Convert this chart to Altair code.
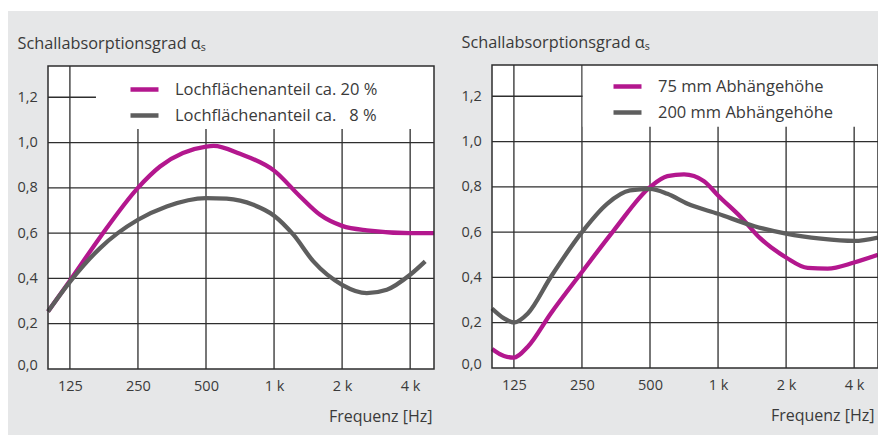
import altair as alt
import pandas as pd

FONT = "Open Sans"
TXT = "#3a3a3a"
MAGENTA = "#b3178e"
GREY = "#5e5e5e"
BG = "#e6e7e8"
GRID = "#2e2e2e"

# ---------------- data ----------------
x_ticks = [125, 250, 500, 1000, 2000, 4000]
y_ticks = [0.0, 0.2, 0.4, 0.6, 0.8, 1.0, 1.2]
y_grid = [0.2, 0.4, 0.6, 0.8, 1.0, 1.2]

# left panel: Lochflächenanteil
left_names = ["Lochflächenanteil ca. 20 %", "Lochflächenanteil ca.\u00a0\u00a0\u00a08 %"]
left_f20 = [100, 125, 170, 250, 313, 500, 540, 707, 1000, 1304, 1598, 2000, 2572, 4000, 5100]
left_a20 = [0.254, 0.39, 0.582, 0.80, 0.894, 0.982, 0.985, 0.95, 0.876, 0.762, 0.681, 0.632, 0.612, 0.60, 0.60]
left_f8 = [100, 125, 170, 250, 335, 500, 617, 810, 1000, 1218, 1493, 2000, 2572, 3153, 4000, 4663]
left_a8 = [0.254, 0.385, 0.534, 0.659, 0.718, 0.755, 0.752, 0.725, 0.677, 0.593, 0.475, 0.372, 0.335, 0.35, 0.416, 0.475]

# right panel: Abhängehöhe
right_names = ["75 mm Abhängehöhe", "200 mm Abhängehöhe"]
right_f75 = [100, 113, 125, 144, 182, 250, 346, 500, 597, 707, 867, 1000, 1260, 1543, 2000, 2491, 3056, 4000, 5100]
right_a75 = [0.084, 0.053, 0.046, 0.094, 0.241, 0.424, 0.608, 0.799, 0.847, 0.855, 0.825, 0.762, 0.667, 0.571, 0.488, 0.442, 0.439, 0.466, 0.50]
right_f200 = [100, 113, 125, 144, 182, 250, 323, 408, 500, 597, 733, 1000, 1449, 2000, 2848, 4000, 5100]
right_a200 = [0.263, 0.219, 0.201, 0.241, 0.402, 0.60, 0.725, 0.784, 0.791, 0.769, 0.725, 0.681, 0.626, 0.593, 0.571, 0.561, 0.576]

y_title = "Schallabsorptionsgrad α\u209b"
x_title = "Frequenz [Hz]"

X_DOMAIN = [100, 5100]
Y_DOMAIN = [0, 1.338]

# whole grey area (view) size
VW, VH = 870, 424


def panel(series, names, box, xrange_, yrange_, leg_x, leg_y, xt_x, yt_y):
    x0, x1 = xrange_
    ybot, ytop = yrange_
    xs = alt.Scale(type="log", domain=X_DOMAIN, range=[x0, x1], nice=False, zero=False)
    ys = alt.Scale(domain=Y_DOMAIN, range=[ybot, ytop], nice=False, zero=False)
    lab_pad = 31
    xaxis = alt.Axis(
        orient="bottom", offset=-(VH - ybot),
        values=x_ticks, grid=False, ticks=False, domain=False, tickSize=0,
        labelExpr="datum.value >= 1000 ? format(datum.value / 1000, 'd') + ' k' : format(datum.value, 'd')",
        labelFont=FONT, labelFontSize=14.5, labelColor=TXT, labelBaseline="middle",
        labelPadding=17, labelFlush=False, labelOverlap=False,
        title=x_title, titleFont=FONT, titleFontSize=16, titleFontWeight="normal",
        titleColor=TXT, titleX=xt_x, titleY=47, titleAlign="right",
        titleBaseline="middle", zindex=1,
    )
    yaxis = alt.Axis(
        orient="left", offset=-x0,
        values=y_ticks, grid=False, ticks=False, domain=False, tickSize=0,
        labelExpr="replace(format(datum.value, '.1f'), '.', ',')",
        labelFont=FONT, labelFontSize=14.5, labelColor=TXT, labelAlign="left",
        labelBaseline="middle", labelPadding=lab_pad, labelFlush=False,
        labelOffset={"condition": {"test": "datum.value == 0", "value": -4}, "value": 0},
        title=y_title, titleFont=FONT, titleFontSize=16.3, titleFontWeight="normal",
        titleColor=TXT, titleAngle=0, titleX=-lab_pad, titleY=yt_y,
        titleAlign="left", titleBaseline="alphabetic", zindex=1,
    )
    X = lambda f: alt.X(f, scale=xs, axis=xaxis)
    Y = lambda f: alt.Y(f, scale=ys, axis=yaxis)

    area = pd.DataFrame({"f0": [X_DOMAIN[0]], "f1": [X_DOMAIN[1]],
                         "a0": [Y_DOMAIN[0]], "a1": [Y_DOMAIN[1]]})
    plotrect = alt.Chart(area).mark_rect(color="white").encode(
        x=X("f0:Q"), x2="f1:Q", y=Y("a0:Q"), y2="a1:Q")
    vgrid = alt.Chart(pd.DataFrame({"f": x_ticks, "a0": Y_DOMAIN[0], "a1": Y_DOMAIN[1]})).mark_rule(
        color=GRID, strokeWidth=1.3).encode(x=X("f:Q"), y=Y("a0:Q"), y2="a1:Q")
    hgrid = alt.Chart(pd.DataFrame({"a": y_grid, "f0": X_DOMAIN[0], "f1": X_DOMAIN[1]})).mark_rule(
        color=GRID, strokeWidth=1.3).encode(y=Y("a:Q"), x=X("f0:Q"), x2="f1:Q")
    legbox = alt.Chart(pd.DataFrame({"f": [box[0]], "f2": [box[1]], "a": [box[2]], "a2": [box[3]]})
                       ).mark_rect(color="white").encode(
        x=X("f:Q"), x2="f2:Q", y=Y("a:Q"), y2="a2:Q")

    rows = []
    for name, (fs, vals) in zip(names, series):
        for f, v in zip(fs, vals):
            rows.append({"f": f, "a": v, "s": name})
    df = pd.DataFrame(rows)
    lines = alt.Chart(df).mark_line(strokeWidth=4.3, interpolate="monotone").encode(
        x=X("f:Q"), y=Y("a:Q"),
        color=alt.Color("s:N", scale=alt.Scale(domain=names, range=[MAGENTA, GREY]),
                        sort=names,
                        legend=alt.Legend(
                            orient="none", legendX=leg_x, legendY=leg_y, title=None,
                            symbolType="stroke", symbolStrokeWidth=4.5, symbolSize=784,
                            labelFont=FONT, labelFontSize=16.5, labelColor=TXT,
                            labelOffset=14, rowPadding=-2, padding=0, direction="vertical",
                            labelLimit=400)),
    )
    frame = alt.Chart(area).mark_rect(fillOpacity=0, stroke=GRID, strokeWidth=1.5).encode(
        x=X("f0:Q"), x2="f1:Q", y=Y("a0:Q"), y2="a1:Q")

    return alt.layer(plotrect, vgrid, hgrid, legbox, lines, frame)


left = panel([(left_f20, left_a20), (left_f8, left_a8)], left_names,
             box=[163, 5100, 1.06, 1.338], xrange_=(40, 426), yrange_=(358, 55),
             leg_x=120, leg_y=62, xt_x=424, yt_y=37)
right = panel([(right_f75, right_a75), (right_f200, right_a200)], right_names,
              box=[252, 5100, 1.065, 1.338], xrange_=(484, 870), yrange_=(357, 54),
              leg_x=603, leg_y=59, xt_x=866, yt_y=36)

chart = alt.layer(left, right).resolve_scale(
    x="independent", y="independent", color="independent"
).resolve_axis(x="independent", y="independent").resolve_legend(
    color="independent"
).properties(
    width=VW, height=VH,
    autosize=alt.AutoSizeParams(type="none"),
    padding={"left": 8, "top": 11, "right": 0, "bottom": 7},
    background="white",
).configure_view(fill=BG, strokeWidth=0)

chart.save("out.html", embed_options={"renderer": "svg", "actions": False})
